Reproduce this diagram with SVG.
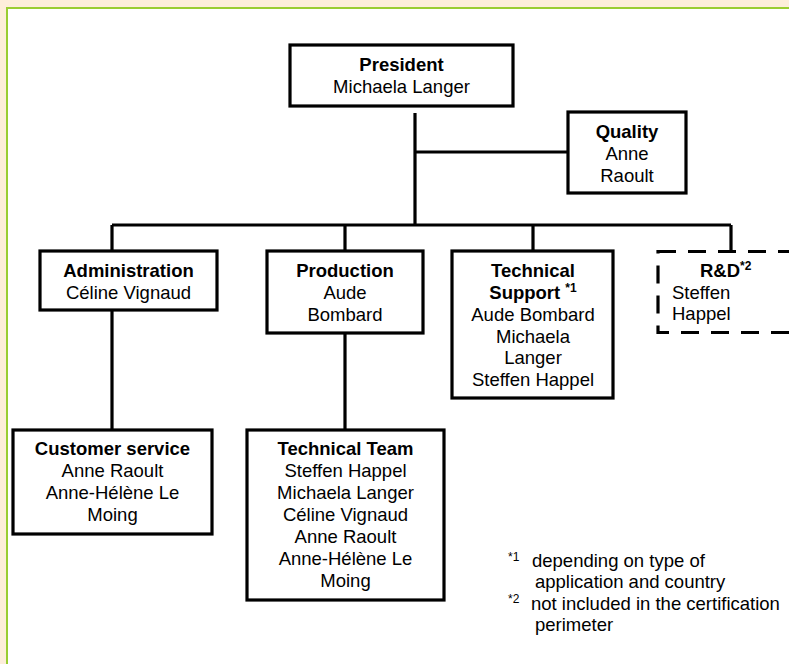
<svg xmlns="http://www.w3.org/2000/svg" width="789" height="664" viewBox="0 0 789 664">
<style>
.box{fill:#fff;stroke:#000;stroke-width:3.2}
.dash{fill:#fff;stroke:#000;stroke-width:3.2;stroke-dasharray:18 12}
.ln{fill:none;stroke:#000;stroke-width:3.2}
text{font-family:"Liberation Sans",Arial,sans-serif;font-size:18.5px;fill:#000}
.c{text-anchor:middle}
.b{font-weight:bold}
.sup{font-size:12px}
</style>
<rect x="0" y="0" width="789" height="664" fill="#FDEEDA"/>
<rect x="7" y="8" width="800" height="680" fill="#fff" stroke="#9ACD32" stroke-width="2"/>
<g id="connectors">
<path class="ln" d="M415 113V225M415 152H568M112 225H731M112 225V251M345 225V251M533 225V251M731 225V251M112 310V430M345 333V430"/>
</g>
<g id="president">
<rect class="box" x="290" y="45" width="223" height="61"/>
<text class="c b" x="401.5" y="71">President</text>
<text class="c" x="401.5" y="93">Michaela Langer</text>
</g>
<g id="quality">
<rect class="box" x="568" y="112" width="118" height="81"/>
<text class="c b" x="627" y="137.5">Quality</text>
<text class="c" x="627" y="159.5">Anne</text>
<text class="c" x="627" y="181.5">Raoult</text>
</g>
<g id="administration">
<rect class="box" x="40" y="251" width="177" height="59"/>
<text class="c b" x="128.5" y="277">Administration</text>
<text class="c" x="128.5" y="299">Céline Vignaud</text>
</g>
<g id="production">
<rect class="box" x="267" y="251" width="156" height="82"/>
<text class="c b" x="345" y="277">Production</text>
<text class="c" x="345" y="299">Aude</text>
<text class="c" x="345" y="320.5">Bombard</text>
</g>
<g id="technical-support">
<rect class="box" x="452" y="251" width="161" height="147"/>
<text class="c b" x="533" y="277">Technical</text>
<text class="c b" x="533" y="299">Support <tspan class="sup" dy="-7">*1</tspan></text>
<text class="c" x="533" y="320.8">Aude Bombard</text>
<text class="c" x="533" y="342.6">Michaela</text>
<text class="c" x="533" y="364.4">Langer</text>
<text class="c" x="533" y="386.2">Steffen Happel</text>
</g>
<g id="rd">
<rect class="dash" x="658" y="251.5" width="160" height="81"/>
<text class="b" x="700" y="277">R&amp;D<tspan class="sup" dy="-7">*2</tspan></text>
<text x="672" y="298.5">Steffen</text>
<text x="672" y="320">Happel</text>
</g>
<g id="customer-service">
<rect class="box" x="13" y="430" width="199" height="104"/>
<text class="c b" x="112.5" y="455">Customer service</text>
<text class="c" x="112.5" y="477">Anne Raoult</text>
<text class="c" x="112.5" y="499">Anne-Hélène Le</text>
<text class="c" x="112.5" y="521">Moing</text>
</g>
<g id="technical-team">
<rect class="box" x="247" y="430" width="197" height="170"/>
<text class="c b" x="345.5" y="455">Technical Team</text>
<text class="c" x="345.5" y="477">Steffen Happel</text>
<text class="c" x="345.5" y="499">Michaela Langer</text>
<text class="c" x="345.5" y="521">Céline Vignaud</text>
<text class="c" x="345.5" y="543">Anne Raoult</text>
<text class="c" x="345.5" y="565">Anne-Hélène Le</text>
<text class="c" x="345.5" y="587">Moing</text>
</g>
<g id="footnotes">
<text class="sup" x="508" y="561">*1</text>
<text x="532" y="566.5">depending on type of</text>
<text x="535" y="588">application and country</text>
<text class="sup" x="508" y="603">*2</text>
<text x="531" y="610">not included in the certification</text>
<text x="535" y="631">perimeter</text>
</g>
</svg>
